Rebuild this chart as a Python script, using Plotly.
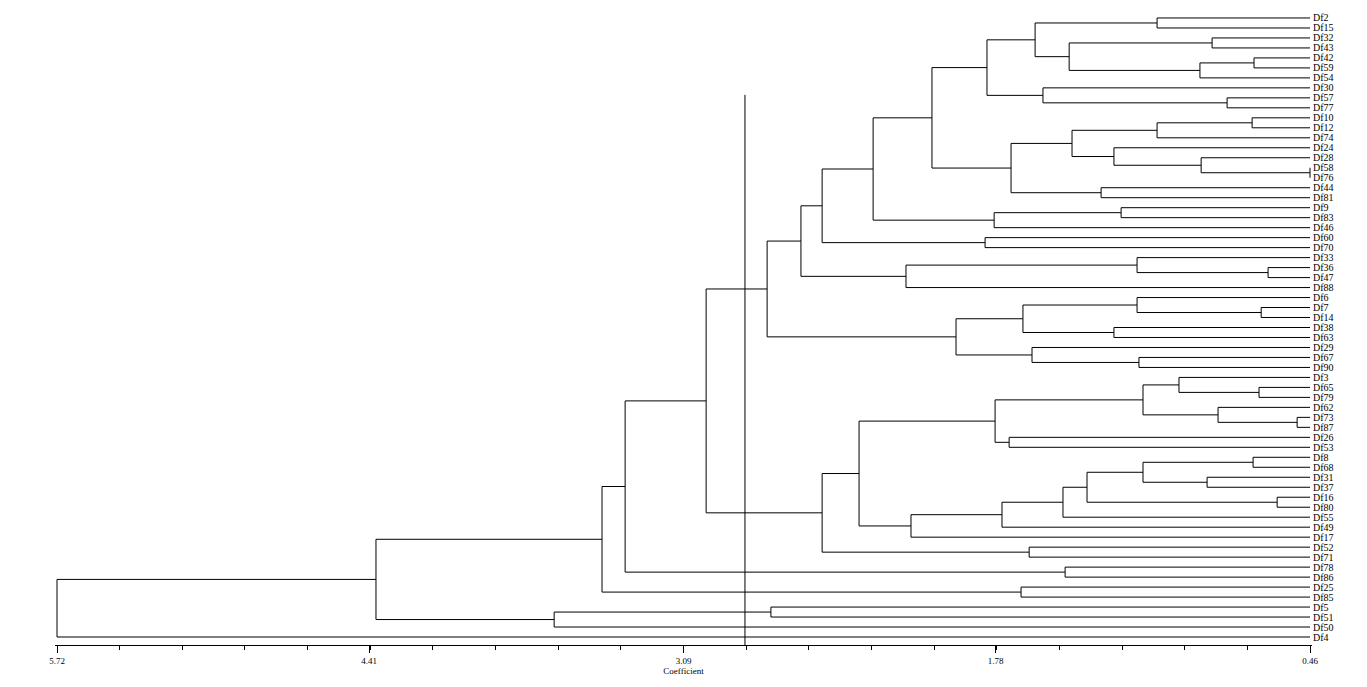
import plotly.graph_objects as go

# ---------------- data ----------------
leaf_labels = [
    "Df2", "Df15", "Df32", "Df43", "Df42", "Df59", "Df54", "Df30", "Df57", "Df77",
    "Df10", "Df12", "Df74", "Df24", "Df28", "Df58", "Df76", "Df44", "Df81", "Df9",
    "Df83", "Df46", "Df60", "Df70", "Df33", "Df36", "Df47", "Df88", "Df6", "Df7",
    "Df14", "Df38", "Df63", "Df29", "Df67", "Df90", "Df3", "Df65", "Df79", "Df62",
    "Df73", "Df87", "Df26", "Df53", "Df8", "Df68", "Df31", "Df37", "Df16", "Df80",
    "Df55", "Df49", "Df17", "Df52", "Df71", "Df78", "Df86", "Df25", "Df85", "Df5",
    "Df51", "Df50", "Df4",
]

# each merge: name, left child, right child, coefficient at which they join
merge_names = [
    "a1", "a2", "a3", "a4", "a5", "a6", "a7", "a8", "a9",
    "b1", "b2", "b3", "b4", "b5", "b6", "b7", "b8", "b9",
    "c1", "c2", "c3", "c4", "c5",
    "d1", "d2", "d3", "d4",
    "e1", "e2", "e3", "e4", "e5", "e6", "e7", "e8",
    "f1", "f2", "f3", "f4", "f5", "f6", "f7",
    "g1", "g2", "g3", "g4", "g5", "g6", "g7", "g8", "g9", "g10", "g11",
    "h1", "h2", "h3", "h4", "h5", "k1", "k2", "h6", "root",
]
merge_left = [
    "Df2", "Df32", "Df42", "a3", "a2", "a1", "Df57", "Df30", "a6",
    "Df10", "b1", "Df58", "Df28", "Df24", "b2", "Df44", "b6", "a9",
    "Df9", "c1", "b9", "Df60", "c3",
    "Df36", "Df33", "d2", "c5",
    "Df7", "Df6", "Df38", "e2", "Df67", "Df29", "e4", "d4",
    "Df65", "Df3", "Df73", "Df62", "f2", "Df26", "f5",
    "Df8", "Df31", "g1", "Df16", "g3", "g5", "g6", "g7", "f7", "Df52", "g9",
    "e8", "Df78", "h1", "Df25", "h3", "Df5", "k1", "h5", "h6",
]
merge_right = [
    "Df15", "Df43", "Df59", "Df54", "a4", "a5", "Df77", "a7", "a8",
    "Df12", "Df74", "Df76", "b3", "b4", "b5", "Df81", "b7", "b8",
    "Df83", "Df46", "c2", "Df70", "c4",
    "Df47", "d1", "Df88", "d3",
    "Df14", "e1", "Df63", "e3", "Df90", "e5", "e6", "e7",
    "Df79", "f1", "Df87", "f3", "f4", "Df53", "f6",
    "Df68", "Df37", "g2", "Df80", "g4", "Df55", "Df49", "Df17", "g8", "Df71", "g10",
    "g11", "Df86", "h2", "Df85", "h4", "Df51", "Df50", "k2", "Df4",
]
merge_height = [
    1.102, 0.871, 0.695, 0.922, 1.471, 1.614, 0.808, 1.581, 1.816,
    0.703, 1.102, 0.460, 0.917, 1.283, 1.459, 1.337, 1.715, 2.047,
    1.253, 1.786, 2.294, 1.824, 2.508,
    0.636, 1.186, 2.156, 2.597,
    0.665, 1.186, 1.283, 1.665, 1.178, 1.627, 1.946, 2.739,
    0.674, 1.010, 0.514, 0.846, 1.161, 1.723, 1.782,
    0.699, 0.892, 1.161, 0.598, 1.396, 1.497, 1.753, 2.135, 2.353, 1.639, 2.508,
    2.995, 1.488, 3.335, 1.673, 3.432, 2.723, 3.633, 4.381, 5.720,
]

axis_ticks = [5.72, 4.41, 3.09, 1.78, 0.46]
axis_tick_labels = ["5.72", "4.41", "3.09", "1.78", "0.46"]
cut_value = 2.832
cut_top_row = 7.7
leaf_height = 0.46
# ---------------------------------------

pos = {lab: float(i) for i, lab in enumerate(leaf_labels)}
hgt = {lab: leaf_height for lab in leaf_labels}

xs, ys = [], []
for name, l, r, h in zip(merge_names, merge_left, merge_right, merge_height):
    pos[name] = (pos[l] + pos[r]) / 2
    hgt[name] = h
    xs += [hgt[l], h, h, hgt[r], None]
    ys += [pos[l], pos[l], pos[r], pos[r], None]

bottom = len(leaf_labels) - 1 + 0.8

fig = go.Figure()
fig.add_trace(go.Scatter(x=xs, y=ys, mode="lines",
                         line=dict(color="black", width=1),
                         hoverinfo="skip", showlegend=False))
fig.add_trace(go.Scatter(x=[cut_value, cut_value], y=[cut_top_row, bottom], mode="lines",
                         line=dict(color="black", width=1),
                         hoverinfo="skip", showlegend=False))

serif = "Liberation Serif, Times New Roman, serif"
fig.update_layout(
    width=1359, height=679,
    margin=dict(l=47, r=55, t=0, b=42),
    paper_bgcolor="white", plot_bgcolor="white",
    font=dict(family=serif, color="black", size=10),
    xaxis=dict(
        range=[5.7284, 0.4516],
        tickvals=axis_ticks, ticktext=axis_tick_labels,
        ticks="outside", ticklen=7, tickwidth=1, tickcolor="black",
        showline=True, linecolor="black", linewidth=1,
        showgrid=False, zeroline=False,
        tickfont=dict(family=serif, size=9),
        minor=dict(ticks="outside", ticklen=4, tickwidth=1, tickcolor="black",
                   tick0=0.46, dtick=0.263, showgrid=False),
        title=dict(text="Coefficient", font=dict(family=serif, size=9), standoff=1),
    ),
    yaxis=dict(
        range=[bottom, -1],
        side="right",
        tickvals=list(range(len(leaf_labels))), ticktext=leaf_labels,
        ticks="", showline=False, showgrid=False, zeroline=False,
        tickfont=dict(family=serif, size=10),
    ),
)

fig.write_html("out.html")
